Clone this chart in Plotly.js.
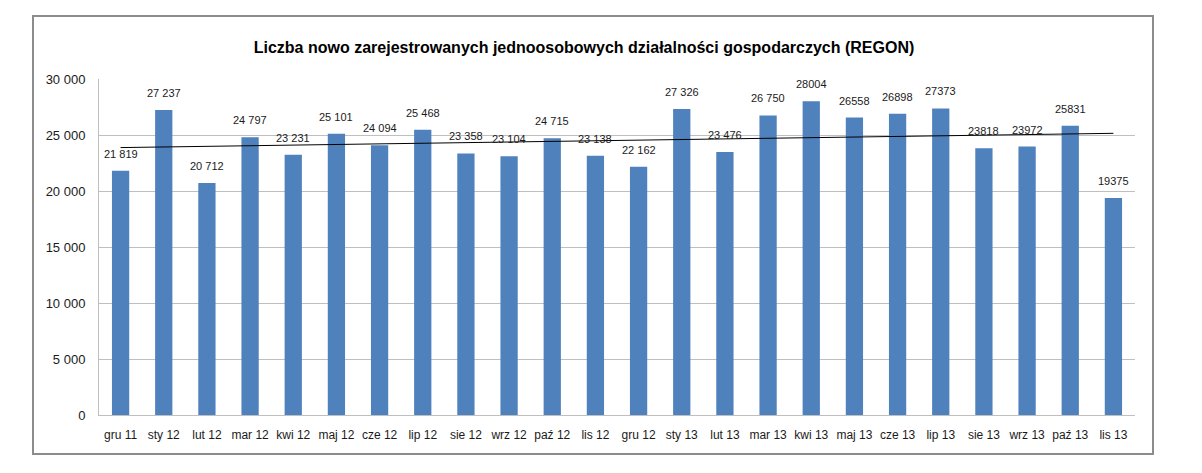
<!DOCTYPE html>
<html>
<head>
<meta charset="utf-8">
<script src="https://cdn.plot.ly/plotly-3.0.1.min.js"></script>
<style>html,body{margin:0;padding:0;background:#fff;}#chart{width:1202px;height:473px;}</style>
</head>
<body>
<div id="chart"></div>
<script>
const months = ["gru 11","sty 12","lut 12","mar 12","kwi 12","maj 12","cze 12","lip 12","sie 12","wrz 12","paź 12","lis 12","gru 12","sty 13","lut 13","mar 13","kwi 13","maj 13","cze 13","lip 13","sie 13","wrz 13","paź 13","lis 13"];
const registrations = [21819,27237,20712,24797,23231,25101,24094,25468,23358,23104,24715,23138,22162,27326,23476,26750,28004,26558,26898,27373,23818,23972,25831,19375];
const valueLabels = ["21 819","27 237","20 712","24 797","23 231","25 101","24 094","25 468","23 358","23 104","24 715","23 138","22 162","27 326","23 476","26 750","28004","26558","26898","27373","23818","23972","25831","19375"];
const chartTitle = "Liczba nowo zarejestrowanych jednoosobowych działalności gospodarczych (REGON)";

// linear trend (least squares) over the series
const n = registrations.length;
let sx=0, sy=0, sxy=0, sxx=0;
registrations.forEach((v,i)=>{sx+=i;sy+=v;sxy+=i*v;sxx+=i*i;});
const slope = (n*sxy - sx*sy)/(n*sxx - sx*sx);
const intercept = (sy - slope*sx)/n;
const trend = registrations.map((v,i)=>intercept+slope*i);

const font = "'Liberation Sans', Arial, sans-serif";

const bars = {
  type: 'bar', x: months, y: registrations,
  marker: {color: '#4F81BD'},
  hoverinfo: 'x+y', showlegend: false
};
const trendLine = {
  type: 'scatter', mode: 'lines', x: months, y: trend,
  line: {color: '#000000', width: 1}, showlegend: false, hoverinfo: 'skip'
};

const labelAnnotations = months.map((m, i) => ({
  x: m, y: registrations[i], xref: 'x', yref: 'y',
  text: valueLabels[i], showarrow: false, yanchor: 'bottom', yshift: 9,
  font: {family: font, size: 11, color: '#1a1a1a'}
}));

const L = 99, R = 1135, T = 79, B = 415;
const pw = R - L, ph = B - T;
const layout = {
  width: 1202, height: 473,
  margin: {l: L, r: 1202 - R, t: T, b: 473 - B, pad: 0},
  paper_bgcolor: '#ffffff', plot_bgcolor: '#ffffff',
  separators: ', ',
  bargap: 0.6,
  title: {text: '<b>' + chartTitle + '</b>', x: 584/1202, xanchor: 'center', y: 1 - 47/473, yanchor: 'middle',
          font: {family: font, size: 16, color: '#000000'}},
  xaxis: {type: 'category', showgrid: false, showline: true, linecolor: '#bfbfbf', linewidth: 1,
          ticks: '', ticklabelstandoff: 9,
          tickfont: {family: font, size: 12, color: '#1a1a1a'}, fixedrange: true},
  yaxis: {range: [0, 30000], dtick: 5000, tickformat: ',d', showgrid: true, gridcolor: '#bfbfbf', gridwidth: 1,
          showline: true, linecolor: '#bfbfbf', linewidth: 1, zeroline: false, ticks: '',
          ticklabelstandoff: 10,
          tickfont: {family: font, size: 13, color: '#1a1a1a'}, fixedrange: true},
  annotations: labelAnnotations,
  shapes: [{type: 'rect', xref: 'paper', yref: 'paper',
            x0: (33 - L)/pw, x1: (1153 - L)/pw, y0: (B - 454)/ph, y1: (B - 16)/ph,
            line: {color: '#8c8c8c', width: 2}, fillcolor: 'rgba(0,0,0,0)', layer: 'below'}]
};
Plotly.newPlot('chart', [bars, trendLine], layout, {displayModeBar: false, staticPlot: true});
</script>
</body>
</html>
